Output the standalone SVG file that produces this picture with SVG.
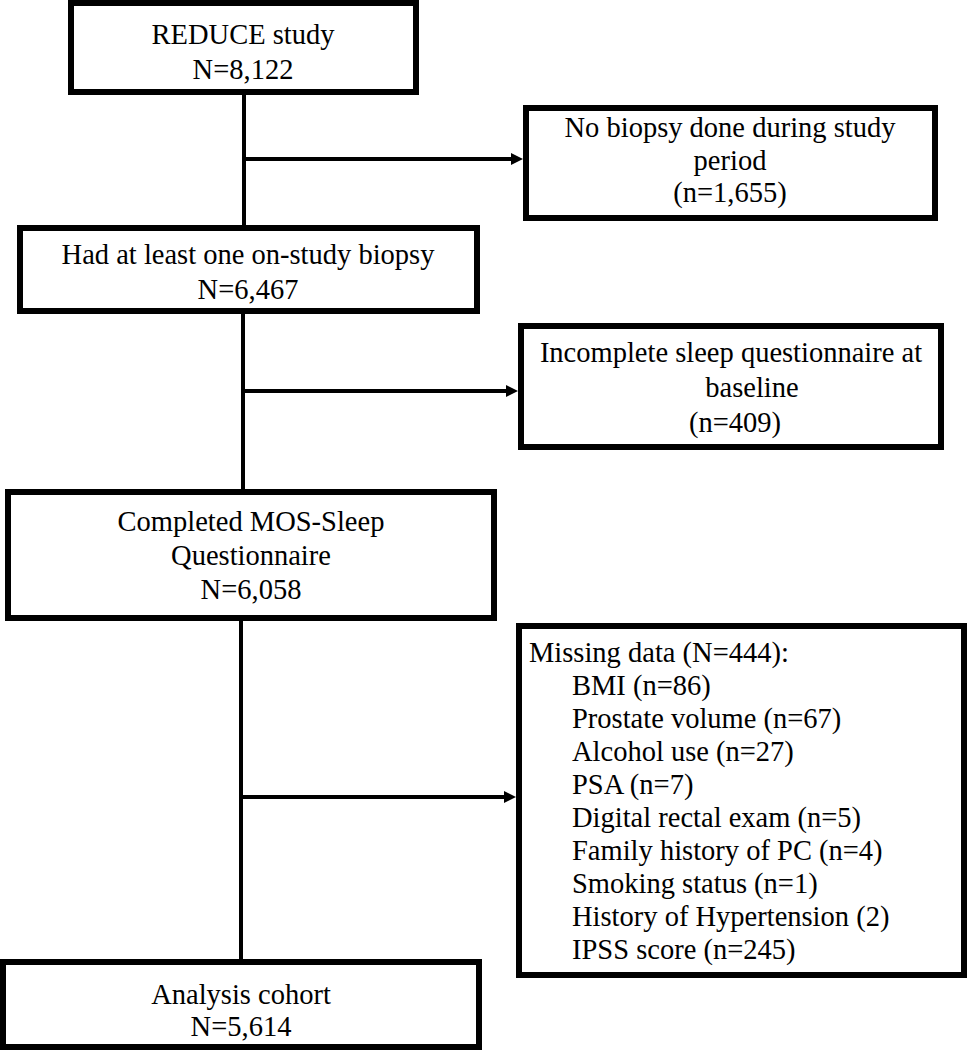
<svg xmlns="http://www.w3.org/2000/svg" width="967" height="1050" viewBox="0 0 967 1050">
<style>
.box{fill:#fff;stroke:#000;stroke-width:6}
.t{font-family:"Liberation Serif","Times New Roman",serif;font-size:28.5px;fill:#000}
.c{text-anchor:middle}
.ln{stroke:#000;stroke-width:4;fill:none}
</style>
<defs>
<marker id="ah" markerWidth="12" markerHeight="12" refX="0" refY="6" orient="auto" markerUnits="userSpaceOnUse">
<path d="M0,0 L12,6 L0,12 z" fill="#000"/>
</marker>
</defs>
<rect width="967" height="1050" fill="#fff"/>
<g id="connectors">
<line class="ln" x1="244" y1="95" x2="244" y2="225"/>
<line class="ln" x1="244" y1="159" x2="511" y2="159" marker-end="url(#ah)"/>
<line class="ln" x1="243" y1="314" x2="243" y2="489"/>
<line class="ln" x1="243" y1="391" x2="506" y2="391" marker-end="url(#ah)"/>
<line class="ln" x1="241" y1="621" x2="241" y2="959"/>
<line class="ln" x1="241" y1="797" x2="504" y2="797" marker-end="url(#ah)"/>
</g>
<g id="n1">
<rect class="box" x="71" y="3" width="345" height="89"/>
<text class="t c" x="243" y="44">REDUCE study</text>
<text class="t c" x="243" y="79">N=8,122</text>
</g>
<g id="n2">
<rect class="box" x="526" y="108" width="409" height="110"/>
<text class="t c" x="730" y="137">No biopsy done during study</text>
<text class="t c" x="730" y="170">period</text>
<text class="t c" x="730" y="202">(n=1,655)</text>
</g>
<g id="n3">
<rect class="box" x="20" y="228" width="457" height="83"/>
<text class="t c" x="248" y="264">Had at least one on-study biopsy</text>
<text class="t c" x="248" y="299">N=6,467</text>
</g>
<g id="n4">
<rect class="box" x="521" y="326" width="420" height="121"/>
<text class="t c" x="731" y="362">Incomplete sleep questionnaire at</text>
<text class="t c" x="752" y="397">baseline</text>
<text class="t c" x="735" y="432">(n=409)</text>
</g>
<g id="n5">
<rect class="box" x="8" y="492" width="486" height="126"/>
<text class="t c" x="251" y="531">Completed MOS-Sleep</text>
<text class="t c" x="251" y="565">Questionnaire</text>
<text class="t c" x="251" y="599">N=6,058</text>
</g>
<g id="n6">
<rect class="box" x="519" y="626" width="445" height="349"/>
<text class="t" x="529" y="662">Missing data (N=444):</text>
<text class="t" x="572" y="695">BMI (n=86)</text>
<text class="t" x="572" y="728">Prostate volume (n=67)</text>
<text class="t" x="572" y="761">Alcohol use (n=27)</text>
<text class="t" x="572" y="794">PSA (n=7)</text>
<text class="t" x="572" y="827">Digital rectal exam (n=5)</text>
<text class="t" x="572" y="860">Family history of PC (n=4)</text>
<text class="t" x="572" y="893">Smoking status (n=1)</text>
<text class="t" x="572" y="926">History of Hypertension (2)</text>
<text class="t" x="572" y="959">IPSS score (n=245)</text>
</g>
<g id="n7">
<rect class="box" x="3" y="962" width="476" height="85"/>
<text class="t c" x="241" y="1004">Analysis cohort</text>
<text class="t c" x="241" y="1036">N=5,614</text>
</g>
</svg>
